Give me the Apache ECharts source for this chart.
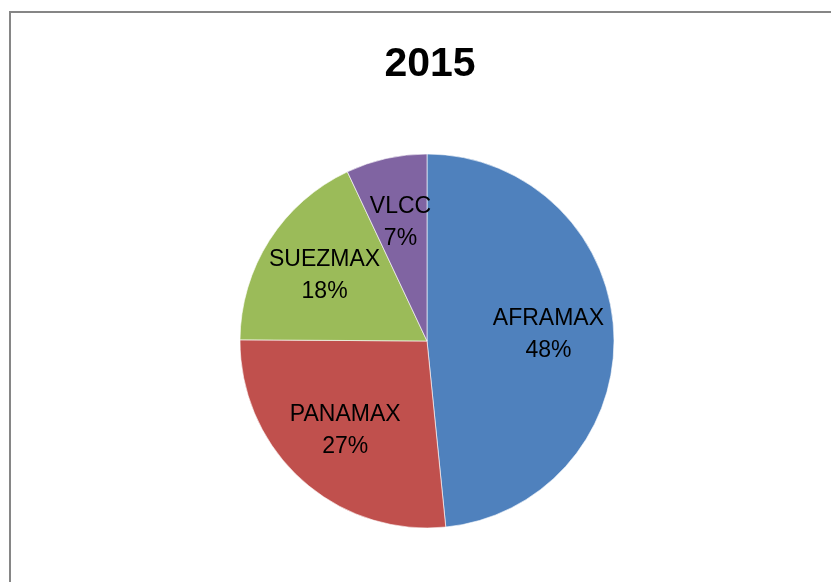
<html>
<head>
    <title>2015</title>
    <script src="https://cdn.jsdelivr.net/npm/echarts@6/dist/echarts.min.js"></script>
</head>
<body style="margin:0;background:#fff;">
    <div id="main" style="width:831px;height:582px;"></div>
    <script type="text/javascript">
        var names = ["AFRAMAX", "PANAMAX", "SUEZMAX", "VLCC"];
        var shares = [48.4, 26.7, 17.9, 7.0];
        var colors = ["#4F81BD", "#C0504D", "#9BBB59", "#8064A2"];

        var slices = [];
        for (var i = 0; i < names.length; i++) {
            slices.push({ name: names[i], value: shares[i], itemStyle: { color: colors[i] } });
        }

        var myChart = echarts.init(document.getElementById('main'));
        var option = {
            animation: false,
            title: {
                text: "2015",
                left: 425,
                textAlign: "center",
                top: 24,
                textStyle: { fontFamily: "Liberation Sans", fontWeight: "bold", fontSize: 41, color: "#000" }
            },
            graphic: [{
                type: "rect",
                shape: { x: 10, y: 12, width: 900, height: 700 },
                style: { fill: null, stroke: "#868686", lineWidth: 2 },
                silent: true
            }],
            series: [
                {
                    type: "pie",
                    center: [427, 341],
                    radius: 187,
                    data: slices,
                    label: { show: false },
                    labelLine: { show: false },
                    itemStyle: { borderColor: "rgba(255,255,255,0.6)", borderWidth: 1 },
                    silent: true
                }
            ]
        };
        myChart.setOption(option);

        // labels sit a bit outside the middle of each slice, like Excel does;
        // read the sector geometry back from the pie layout
        var pieData = myChart.getModel().getSeriesByIndex(0).getData();
        var labels = [];
        pieData.each(function (idx) {
            var lay = pieData.getItemLayout(idx);
            var mid = (lay.startAngle + lay.endAngle) / 2;
            var rr = lay.r * 0.65;
            labels.push({
                type: "text",
                x: lay.cx + rr * Math.cos(mid),
                y: lay.cy + rr * Math.sin(mid),
                silent: true,
                z: 10,
                style: {
                    text: names[idx] + "\n" + Math.round(shares[idx]) + "%",
                    align: "center",
                    verticalAlign: "middle",
                    fontFamily: "Liberation Sans",
                    fontSize: 23,
                    lineHeight: 32,
                    fill: "#000"
                }
            });
        });
        myChart.setOption({ graphic: option.graphic.concat(labels) });
    </script>
</body>
</html>
